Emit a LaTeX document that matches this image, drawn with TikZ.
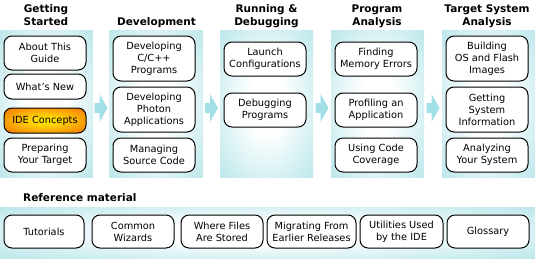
\documentclass[tikz,border=0pt]{standalone}
\usepackage{fontspec}
\setmainfont{DejaVu Sans}
\usetikzlibrary{calc}
\definecolor{panelc}{RGB}{150,218,224}
\definecolor{arrowc}{RGB}{163,223,230}
\pgfdeclareradialshading{panelshade}{\pgfpoint{0bp}{0bp}}{rgb(0bp)=(1,1,1); rgb(10bp)=(1,1,1); rgb(50bp)=(0.588,0.855,0.878); rgb(100bp)=(0.588,0.855,0.878)}
\pgfdeclareradialshading{ideshade}{\pgfpoint{0bp}{0bp}}{rgb(0bp)=(1,0.93,0); rgb(8bp)=(1,0.85,0); rgb(42bp)=(0.94,0.36,0.05); rgb(100bp)=(0.94,0.36,0.05)}
\begin{document}
\begin{tikzpicture}[x=1pt,y=-1pt,
  panel/.style={shade, shading=panelshade, inner sep=0pt, outer sep=0pt, minimum width=93pt, minimum height=147pt},
  box/.style={draw=black, line width=1pt, rounded corners=8pt, fill=white, inner sep=0pt, align=center, minimum width=82pt, minimum height=34pt, font=\fontsize{9.8}{12}\selectfont},
  tall/.style={minimum height=45pt},
  short/.style={minimum height=25pt},
  hot/.style={shade, shading=ideshade},
  hdr/.style={font=\fontsize{10.5}{13}\selectfont\bfseries, align=center, inner sep=0pt, anchor=base},
  flow/.style={fill=arrowc, draw=none}
]
\useasboundingbox (0,0) rectangle (535,258);
% panels
\node[panel] (p1) at (46.5,103.5) {};
\node[panel, minimum width=94pt] (p2) at (156,103.5) {};
\node[panel] (p3) at (266.5,103.5) {};
\node[panel] (p4) at (377.5,103.5) {};
\node[panel] (p5) at (488.5,103.5) {};
\node[panel, minimum width=535pt, minimum height=51pt] (p6) at (267.5,232.5) {};
% flow arrows
\foreach \a/\b in {p1/p2,p2/p3,p3/p4,p4/p5}{
  \coordinate (m) at ($(\a.east)!0.5!(\b.west)+(0,4.5)$);
  \path[flow] ($(m)+(-6.5,-5)$) -- ++(5,0) -- ++(0,-9) -- ++(8,14) -- ++(-8,14) -- ++(0,-9) -- ++(-5,0) -- cycle;
}
% headers
\node[hdr] (h1) at (46,25) {Getting\\Started};
\node[hdr] (h2) at (156.5,25) {Development};
\node[hdr] (h3) at (266.5,25) {Running \&\\Debugging};
\node[hdr] (h4) at (377,25) {Program\\Analysis};
\node[hdr] (h5) at (487,25) {Target System\\Analysis};
\node[hdr, anchor=base west] (h6) at (23,201) {Reference material};
% column 1
\node[box] (b11) at (45,53) {About This\\Guide};
\node[box, short] (b12) at (45,86.5) {What's New};
\node[box, short, hot] (b13) at (45,120.5) {IDE Concepts};
\node[box] (b14) at (45,155) {Preparing\\Your Target};
% column 2
\node[box, tall] (b21) at (154,58.5) {Developing\\C/C++\\Programs};
\node[box, tall] (b22) at (154,109.5) {Developing\\Photon\\Applications};
\node[box] (b23) at (154,155) {Managing\\Source Code};
% column 3
\node[box] (b31) at (265,59) {Launch\\Configurations};
\node[box] (b32) at (265,110) {Debugging\\Programs};
% column 4
\node[box] (b41) at (376,59) {Finding\\Memory Errors};
\node[box] (b42) at (376,110) {Profiling an\\Application};
\node[box] (b43) at (376,155) {Using Code\\Coverage};
% column 5
\node[box, tall] (b51) at (487,58.5) {Building\\OS and Flash\\Images};
\node[box, tall] (b52) at (487,109.5) {Getting\\System\\Information};
\node[box] (b53) at (487,155) {Analyzing\\Your System};
% reference material
\node[box, minimum height=33pt, minimum width=80pt] (r1) at (44,231.5) {Tutorials};
\node[box, minimum height=33pt] (r2) at (133,231.5) {Common\\Wizards};
\node[box, minimum height=33pt] (r3) at (222,231.5) {Where Files\\Are Stored};
\node[box, minimum height=33pt, minimum width=89pt] (r4) at (311.5,231.5) {Migrating From\\Earlier Releases};
\node[box, minimum height=33pt, minimum width=83pt] (r5) at (401.5,231.5) {Utilities Used\\by the IDE};
\node[box, minimum height=33pt] (r6) at (488,231.5) {Glossary};
\end{tikzpicture}
\end{document}
